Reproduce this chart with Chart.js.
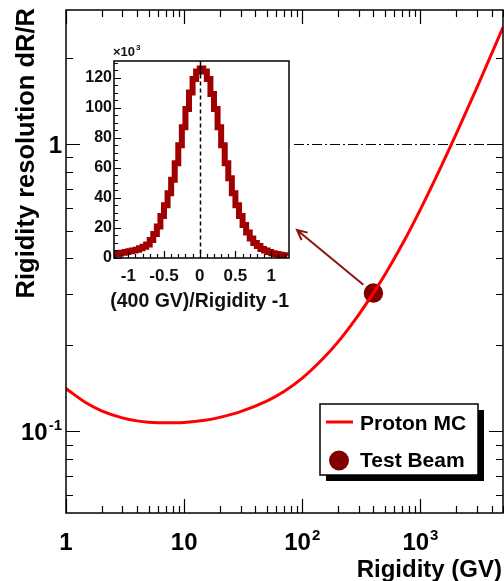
<!DOCTYPE html>
<html>
<head>
<meta charset="utf-8">
<script src="https://cdn.jsdelivr.net/npm/chart.js@4.4.0/dist/chart.umd.min.js"></script>
<style>
  html, body { margin:0; padding:0; background:#fff; }
  #wrap { position:relative; width:504px; height:581px; overflow:hidden; }
  canvas { position:absolute; left:0; top:0; }
</style>
</head>
<body>
<div id="wrap">
  <canvas id="mainChart" width="504" height="581"></canvas>
  <canvas id="insetChart" width="504" height="581"></canvas>
</div>
<script>
// proton MC resolution curve
const rigidity   = [1, 1.5, 2, 3, 4, 5, 7, 10, 15, 20, 30, 50, 70, 100, 150, 200, 300, 400, 500, 700, 1000, 1500, 2000, 3000, 5000];
const resolution = [0.141, 0.1253, 0.118, 0.1115, 0.1088, 0.1077, 0.1071, 0.1074, 0.1093, 0.1119, 0.1172, 0.1275, 0.1377, 0.1533, 0.1793, 0.2046, 0.2547, 0.3035, 0.351, 0.447, 0.593, 0.837, 1.081, 1.57, 2.55];
// test beam point
const beamRigidity  = [400];
const beamResolution = [0.303];

// main axis ticks
const xMajorTicks = [1, 10, 100, 1000];
const xTickLabels = [['1', ''], ['10', ''], ['10', '2'], ['10', '3']];
const yMajorTicks = [0.1, 1];
const yTickLabels = [['10', '-1'], ['1', '']];

// inset histogram, (400 GV)/Rigidity - 1, counts in units of 10^3
const histCenters = [-1.225, -1.175, -1.125, -1.075, -1.025, -0.975, -0.925, -0.875, -0.825, -0.775,
  -0.725, -0.675, -0.625, -0.575, -0.525, -0.475, -0.425, -0.375, -0.325, -0.275,
  -0.225, -0.175, -0.125, -0.075, -0.025, 0.025, 0.075, 0.125, 0.175, 0.225,
  0.275, 0.325, 0.375, 0.425, 0.475, 0.525, 0.575, 0.625, 0.675, 0.725,
  0.775, 0.825, 0.875, 0.925, 0.975, 1.025, 1.075, 1.125, 1.175, 1.225];
const histCounts = [2, 2.5, 3, 3.5, 4, 4.5, 5, 5.5, 6.5, 7.5,
  9, 12, 16, 21, 28, 35, 43, 52, 63, 75,
  87, 99, 110, 119, 124, 126, 124, 119, 109, 99,
  87, 75, 63, 53, 43, 35, 28, 22, 17, 13,
  10, 8, 6, 5, 4, 3.2, 2.6, 2.2, 1.8, 1.5];
const insetXTicks = [-1, -0.5, 0, 0.5, 1];
const insetXLabels = ['-1', '-0.5', '0', '0.5', '1'];
const insetYTicks = [0, 20, 40, 60, 80, 100, 120];

const FONT = '"Liberation Sans", Arial, Helvetica, sans-serif';
const insetBox = { left:114, top:61, right:289, bottom:258 };

const drawPow = (ctx, base, exp, x, yb, align, size) => {
    var bigF = 'bold ' + size + 'px ' + FONT, smallF = 'bold ' + Math.round(size*0.62) + 'px ' + FONT;
    ctx.font = bigF;
    var wb = ctx.measureText(base).width;
    ctx.font = smallF;
    var we = exp ? ctx.measureText(exp).width + 1 : 0;
    var x0 = align == 'right' ? x - wb - we : x - (wb + we)/2;
    ctx.textAlign = 'left';
    ctx.textBaseline = 'alphabetic';
    ctx.font = bigF;
    ctx.fillText(base, x0, yb);
    if (exp) {
        ctx.font = smallF;
        ctx.fillText(exp, x0 + wb + 1, yb - size*0.42);
    }
}

const mainDecor = {
    id: 'mainDecor',
    beforeDatasetsDraw(chart) {
        const {ctx, chartArea: a, scales: {y}} = chart;
        // dash-dot line at dR/R = 1
        var y1 = Math.round(y.getPixelForValue(1)) + 0.5;
        ctx.save();
        ctx.strokeStyle = '#000';
        ctx.lineWidth = 1;
        ctx.setLineDash([10, 3, 2, 3]);
        ctx.beginPath();
        ctx.moveTo(insetBox.right + 5, y1);
        ctx.lineTo(a.right, y1);
        ctx.stroke();
        ctx.restore();
    },
    afterDraw(chart) {
        const {ctx, chartArea: a, scales: {x, y}} = chart;
        ctx.save();
        ctx.strokeStyle = '#000';
        ctx.lineWidth = 1.5;
        ctx.strokeRect(a.left, a.top, a.right - a.left, a.bottom - a.top);

        // ticks, pointing inside
        ctx.lineWidth = 1.2;
        ctx.beginPath();
        var decX = [1, 10, 100, 1000];
        decX.forEach(d => {
            for (var m = 1; m <= 9; m++) {
                var v = d*m;
                if (v > x.max) continue;
                var px = Math.round(x.getPixelForValue(v)) + 0.5;
                var len = m == 1 ? 14 : 7;
                ctx.moveTo(px, a.bottom); ctx.lineTo(px, a.bottom - len);
                ctx.moveTo(px, a.top); ctx.lineTo(px, a.top + len);
            }
        });
        var decY = [0.01, 0.1, 1];
        decY.forEach(d => {
            for (var m = 1; m <= 9; m++) {
                var v = d*m;
                if (v < y.min || v > y.max) continue;
                var py = Math.round(y.getPixelForValue(v)) + 0.5;
                var len = m == 1 ? 14 : 7;
                ctx.moveTo(a.left, py); ctx.lineTo(a.left + len, py);
                ctx.moveTo(a.right, py); ctx.lineTo(a.right - len, py);
            }
        });
        ctx.stroke();

        // tick labels
        ctx.fillStyle = '#000';
        xMajorTicks.forEach((v, i) => {
            drawPow(ctx, xTickLabels[i][0], xTickLabels[i][1], x.getPixelForValue(v), 550, 'center', 24);
        });
        yMajorTicks.forEach((v, i) => {
            drawPow(ctx, yTickLabels[i][0], yTickLabels[i][1], 62, y.getPixelForValue(v) + 9, 'right', 24);
        });

        // axis titles
        ctx.font = 'bold 24px ' + FONT;
        ctx.textAlign = 'right';
        ctx.textBaseline = 'alphabetic';
        ctx.fillText('Rigidity (GV)', 502, 577);
        ctx.save();
        ctx.translate(34, 8);
        ctx.rotate(-Math.PI/2);
        ctx.font = 'bold 25.5px ' + FONT;
        ctx.textAlign = 'right';
        ctx.fillText('Rigidity resolution dR/R', 0, 0);
        ctx.restore();

        // legend with shadow
        var lx = 320, ly = 404, lw = 158, lh = 71;
        ctx.fillStyle = '#000';
        ctx.fillRect(lx + 6, ly + 6, lw, lh);
        ctx.fillStyle = '#fff';
        ctx.fillRect(lx, ly, lw, lh);
        ctx.lineWidth = 1.5;
        ctx.strokeRect(lx, ly, lw, lh);
        ctx.strokeStyle = '#ff0000';
        ctx.lineWidth = 3;
        ctx.beginPath(); ctx.moveTo(326, 422); ctx.lineTo(353, 422); ctx.stroke();
        ctx.fillStyle = '#800000';
        ctx.beginPath(); ctx.arc(339, 460.5, 10, 0, Math.PI*2); ctx.fill();
        ctx.fillStyle = '#000';
        ctx.font = 'bold 21px ' + FONT;
        ctx.textAlign = 'left';
        ctx.fillText('Proton MC', 360, 430);
        ctx.fillText('Test Beam', 360, 467);
        ctx.restore();
    }
};

var mainChart = new Chart('mainChart', {
    type: 'line',
    data: {
        datasets: [{
            label: 'Proton MC',
            data: rigidity.map((r, i) => ({x: r, y: resolution[i]})),
            borderColor: '#ff0000',
            borderWidth: 3,
            pointRadius: 0,
            cubicInterpolationMode: 'monotone',
            fill: false
        }, {
            type: 'scatter',
            label: 'Test Beam',
            data: beamRigidity.map((r, i) => ({x: r, y: beamResolution[i]})),
            pointRadius: 10.5,
            backgroundColor: '#800000',
            borderColor: '#ffffff',
            borderWidth: 1.5
        }]
    },
    options: {
        responsive: false,
        animation: false,
        devicePixelRatio: 1,
        layout: { autoPadding: false, padding: { left: 66, top: 10, right: 1, bottom: 68 } },
        scales: {
            x: { type: 'logarithmic', min: 1, max: 5000, display: false },
            y: { type: 'logarithmic', min: 0.052, max: 2.93, display: false }
        },
        plugins: { legend: { display: false }, tooltip: { enabled: false } }
    },
    plugins: [mainDecor]
});

const insetDecor = {
    id: 'insetDecor',
    beforeDatasetsDraw(chart) {
        const {ctx, chartArea: a} = chart;
        ctx.save();
        ctx.fillStyle = '#fff';
        ctx.fillRect(a.left, a.top, a.right - a.left, a.bottom - a.top);
        ctx.restore();
    },
    afterDatasetsDraw(chart) {
        const {ctx, chartArea: a, scales: {x, y}} = chart;
        ctx.save();
        // line at 0
        var x0 = Math.round(x.getPixelForValue(0)) + 0.5;
        var yPeak = y.getPixelForValue(122);
        ctx.strokeStyle = '#000';
        ctx.lineWidth = 1.5;
        ctx.beginPath(); ctx.moveTo(x0, a.top); ctx.lineTo(x0, yPeak); ctx.stroke();
        ctx.setLineDash([4, 3]);
        ctx.beginPath(); ctx.moveTo(x0, yPeak); ctx.lineTo(x0, a.bottom); ctx.stroke();
        ctx.setLineDash([]);

        ctx.strokeRect(a.left, a.top, a.right - a.left, a.bottom - a.top);

        ctx.lineWidth = 1.2;
        ctx.beginPath();
        for (var k = -12; k <= 12; k++) {
            var px = Math.round(x.getPixelForValue(k/10)) + 0.5;
            var len = k % 5 == 0 ? 7 : 4;
            ctx.moveTo(px, a.bottom); ctx.lineTo(px, a.bottom - len);
        }
        for (var j = 0; j <= 130; j += 5) {
            var py = Math.round(y.getPixelForValue(j)) + 0.5;
            var len2 = j % 20 == 0 ? 7 : 4;
            ctx.moveTo(a.left, py); ctx.lineTo(a.left + len2, py);
        }
        ctx.stroke();

        ctx.fillStyle = '#111';
        ctx.font = 'bold 16px ' + FONT;
        ctx.textAlign = 'right';
        ctx.textBaseline = 'middle';
        insetYTicks.forEach(v => ctx.fillText(String(v), a.left - 2, y.getPixelForValue(v)));
        ctx.textAlign = 'center';
        ctx.font = 'bold 17px ' + FONT;
        insetXTicks.forEach((v, i) => ctx.fillText(insetXLabels[i], x.getPixelForValue(v), a.bottom + 18));

        ctx.textBaseline = 'alphabetic';
        ctx.textAlign = 'right';
        ctx.font = 'bold 19.5px ' + FONT;
        ctx.fillText('(400 GV)/Rigidity -1', a.right, 307);

        ctx.textAlign = 'left';
        ctx.font = 'bold 13px ' + FONT;
        ctx.fillText('\u00d710', a.left - 1, a.top - 5);
        var w10 = ctx.measureText('\u00d710').width;
        ctx.font = 'bold 8px ' + FONT;
        ctx.fillText('3', a.left + w10, a.top - 11);
        ctx.restore();
    },
    afterDraw(chart) {
        // arrow from the test beam point to the inset
        const {ctx, chartArea: a} = chart;
        var mx = mainChart.scales.x, my = mainChart.scales.y;
        var bx = mx.getPixelForValue(beamRigidity[0]), by = my.getPixelForValue(beamResolution[0]);
        var tx = a.right + 8, ty = a.bottom - 28;
        var ang = Math.atan2(ty - by, tx - bx);
        var sx = bx + Math.cos(ang)*13, sy = by + Math.sin(ang)*13;
        var back = ang + Math.PI;
        ctx.save();
        ctx.strokeStyle = '#8b1414';
        ctx.lineWidth = 2;
        ctx.lineJoin = 'miter';
        ctx.beginPath();
        ctx.moveTo(sx, sy); ctx.lineTo(tx, ty);
        ctx.moveTo(tx + Math.cos(back + 0.45)*11, ty + Math.sin(back + 0.45)*11);
        ctx.lineTo(tx, ty);
        ctx.lineTo(tx + Math.cos(back - 0.45)*11, ty + Math.sin(back - 0.45)*11);
        ctx.stroke();
        ctx.restore();
    }
};

var insetChart = new Chart('insetChart', {
    type: 'line',
    data: {
        datasets: [{
            label: 'hist',
            data: histCenters.map((c, i) => ({x: c, y: histCounts[i]})),
            stepped: 'middle',
            borderColor: '#a00000',
            borderWidth: 6,
            pointRadius: 0,
            fill: false
        }, {
            label: 'fit',
            data: histCenters.map((c, i) => ({x: c, y: histCounts[i]})),
            borderColor: '#ff0000',
            borderWidth: 3,
            pointRadius: 0,
            cubicInterpolationMode: 'monotone',
            fill: false
        }]
    },
    options: {
        responsive: false,
        animation: false,
        devicePixelRatio: 1,
        layout: { autoPadding: false, padding: { left: insetBox.left, top: insetBox.top, right: 504 - insetBox.right, bottom: 581 - insetBox.bottom } },
        scales: {
            x: { type: 'linear', min: -1.2, max: 1.25, display: false },
            y: { type: 'linear', min: 0, max: 131, display: false }
        },
        plugins: { legend: { display: false }, tooltip: { enabled: false } }
    },
    plugins: [insetDecor]
});
</script>
</body>
</html>
